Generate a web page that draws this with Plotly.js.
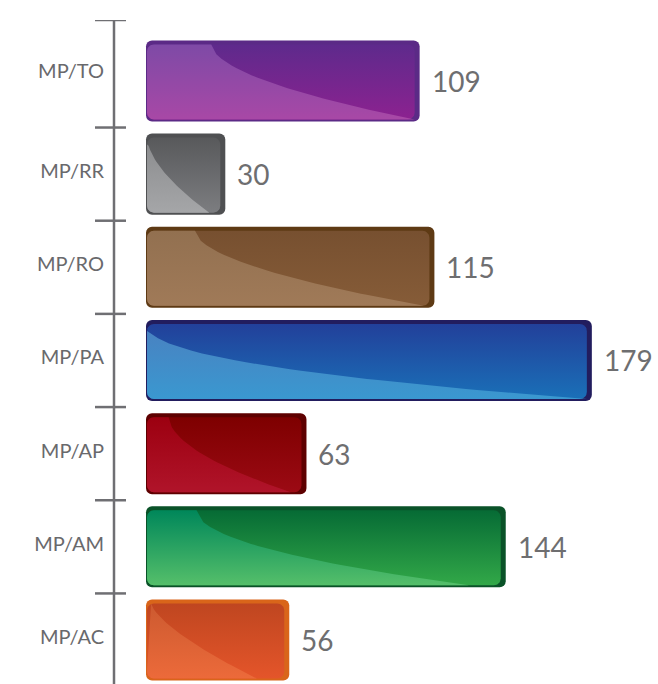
<!DOCTYPE html>
<html>
<head>
<meta charset="utf-8">
<script src="https://cdn.plot.ly/plotly-3.0.1.min.js"></script>
<style>html,body{margin:0;padding:0;background:#fff;}#chart{width:658px;height:684px;}</style>
</head>
<body>
<div id="chart"></div>
<script>
// ---- data ----
const categories = ['MP/TO', 'MP/RR', 'MP/RO', 'MP/PA', 'MP/AP', 'MP/AM', 'MP/AC'];
const values = [109, 30, 115, 179, 63, 144, 56];

// ---- style ----
const borderColors = ['#5b2a86', '#4f5052', '#5e3a14', '#221d5e', '#5e0000', '#0a5228', '#d9651a'];
const darkTop = ['#5e2a8c', '#58595b', '#775030', '#22409a', '#7e0000', '#066b35', '#bf4620'];
const darkBot = ['#8c2290', '#7c7d80', '#865c38', '#1a70b8', '#9c0a14', '#32a848', '#e4552a'];
const lightTop = ['#7e4aa6', '#8a8b8d', '#927050', '#4a80c0', '#9c0010', '#00875a', '#cc5a30'];
const lightBot = ['#a848a6', '#a5a6a8', '#a07a58', '#3a98d0', '#b0142a', '#55bf6a', '#ec6a3a'];
const swooshStart = [0.24, 0.0, 0.17, 0.0, 0.14, 0.14, 0.03];
const swooshEnd = [1.0, 0.85, 0.98, 1.0, 0.93, 0.91, 0.8];
const swooshPow = [0.55, 0.6, 0.55, 0.45, 0.55, 0.5, 0.7];

const ML = 114, MR = 0, MT = 20, MB = 0, WIDTH = 658, HEIGHT = 684;
const kx = 2.46;                  // px per value unit
const zeroPx = 151.5;             // pixel position of value 0
const barStartPx = 146;           // bars visually start here
const xr0 = -(zeroPx - ML) / kx;
const xr1 = xr0 + (WIDTH - ML - MR) / kx;
const barBase = -(zeroPx - barStartPx) / kx;
const yTopR = -0.654, yBotR = 6.472;
const ky = (HEIGHT - MT - MB) / (yBotR - yTopR);
const barW = 0.87;

const idx = categories.map((c, i) => i);
const labelPos = idx.map(i => (i === 0 ? (yTopR + 0.5) / 2 : i) - 3 / ky);

function roundRect(xL, xR, yT, yB, r) {
  const rx = r / kx, ry = r / ky, pts = [];
  const arc = (cx, cy, a0, a1) => {
    for (let k = 0; k <= 8; k++) {
      const a = a0 + (a1 - a0) * k / 8;
      pts.push([cx + rx * Math.cos(a), cy + ry * Math.sin(a)]);
    }
  };
  arc(xL + rx, yT + ry, Math.PI, 1.5 * Math.PI);
  arc(xR - rx, yT + ry, 1.5 * Math.PI, 2 * Math.PI);
  arc(xR - rx, yB - ry, 0, 0.5 * Math.PI);
  arc(xL + rx, yB - ry, 0.5 * Math.PI, Math.PI);
  return pts;
}

const traces = [];
traces.push({
  type: 'bar', orientation: 'h', x: values.map(v => v - barBase), base: barBase, y: idx, width: barW,
  marker: { color: borderColors, cornerradius: 6, line: { width: 0 } },
  hoverinfo: 'skip', showlegend: false
});

values.forEach((v, i) => {
  const xL = barBase + 1 / kx, xR = v - 5 / kx;
  const yT = i - barW / 2 + 4 / ky, yB = i + barW / 2 - 2 / ky;
  const inner = roundRect(xL, xR, yT, yB, 7);
  inner.push(inner[0]);
  traces.push({
    type: 'scatter', mode: 'lines', line: { width: 0 },
    x: inner.map(p => p[0]), y: inner.map(p => p[1]),
    fill: 'toself',
    fillgradient: { type: 'vertical', start: yB, stop: yT,
      colorscale: [[0, darkBot[i]], [1, darkTop[i]]] },
    hoverinfo: 'skip', showlegend: false
  });
  const w = xR - xL, r = 7, rx = r / kx, ry = r / ky;
  const xs = xL + swooshStart[i] * w, xe = xL + swooshEnd[i] * w;
  const pts = [];
  if (xs - xL > rx) {
    for (let k = 0; k <= 8; k++) {
      const a = Math.PI + 0.5 * Math.PI * k / 8;
      pts.push([xL + rx + rx * Math.cos(a), yT + ry + ry * Math.sin(a)]);
    }
  }
  for (let k = 0; k <= 40; k++) {
    const u = k / 40;
    const yy = yT + (yB - yT) * Math.pow(u, swooshPow[i]);
    pts.push([xs + u * (xe - xs), xs === xL && k === 0 ? yT + ry : yy]);
  }
  for (let k = 0; k <= 8; k++) {
    const a = 0.5 * Math.PI + 0.5 * Math.PI * k / 8;
    pts.push([xL + rx + rx * Math.cos(a), yB - ry + ry * Math.sin(a)]);
  }
  pts.push(pts[0]);
  traces.push({
    type: 'scatter', mode: 'lines', line: { width: 0 },
    x: pts.map(p => p[0]), y: pts.map(p => p[1]),
    fill: 'toself',
    fillgradient: { type: 'vertical', start: yB, stop: yT,
      colorscale: [[0, lightBot[i]], [1, lightTop[i]]] },
    hoverinfo: 'skip', showlegend: false
  });
});

const annotations = values.map((v, i) => ({
  x: v, y: i, text: String(v), showarrow: false, xanchor: 'left', xshift: 10, yshift: 0,
  font: { family: 'Lato, sans-serif', size: 28, color: '#6e6e70' }
}));

const tickYs = [yTopR].concat(categories.slice(1).map((c, i) => i + 0.5));
const plotW = WIDTH - ML - MR;
const shapes = tickYs.map(t => ({
  type: 'line', xref: 'paper', yref: 'y', x0: -19 / plotW, x1: 12 / plotW, y0: t, y1: t,
  line: { color: '#6f6f73', width: 2.5 }
}));
shapes.push({
  type: 'line', xref: 'paper', yref: 'y', x0: 0, x1: 0, y0: yTopR, y1: yBotR,
  line: { color: '#6f6f73', width: 2.5 }
});

const layout = {
  width: WIDTH, height: HEIGHT,
  margin: { l: ML, r: MR, t: MT, b: MB },
  paper_bgcolor: '#fff', plot_bgcolor: '#fff',
  showlegend: false,
  xaxis: { range: [xr0, xr1], visible: false, fixedrange: true },
  yaxis: {
    range: [yBotR, yTopR], tickvals: labelPos, ticktext: categories,
    showgrid: false, zeroline: false, showline: false, ticks: '',
    ticklabelstandoff: 9,
    tickfont: { family: 'Lato, sans-serif', size: 20, color: '#69696c' }
  },
  shapes: shapes,
  annotations: annotations
};

Plotly.newPlot('chart', traces, layout, { displayModeBar: false, staticPlot: true });
</script>
</body>
</html>
